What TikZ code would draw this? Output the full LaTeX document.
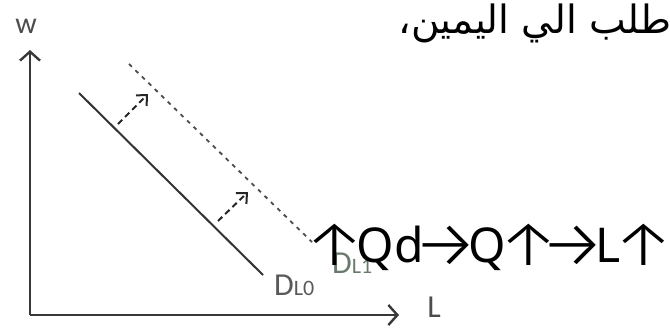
\documentclass[tikz,border=0pt]{standalone}
\usepackage{fontspec}
\setmainfont{Carlito}
\newfontfamily\arabicfont[Script=Arabic]{DejaVu Sans}
\newfontfamily\symfont{Noto Sans}
\newfontfamily\arrowfont{Fira Sans Light}
\TeXXeTstate=1
\usetikzlibrary{positioning,arrows.meta}
\definecolor{labelgreen}{RGB}{105,122,108}
\newcommand{\up}{\kern-9pt\raisebox{-3pt}{\scalebox{1.45}[1.33]{\arrowfont ↑}}\kern-9pt}
\newcommand{\rto}{\kern-11pt\raisebox{-5pt}{\scalebox{1.55}[1.4]{\arrowfont →}}\kern-11pt}

\begin{document}
\begin{tikzpicture}[
  x=1pt, y=-1pt,
  axis/.style     = {line width=2.4pt, draw=black!78,
                     -{Straight Barb[length=9pt, width=20pt, line width=2.4pt]}},
  demand/.style   = {line width=2pt, draw=black!80},
  shifted/.style  = {line width=1.8pt, draw=black!70,
                     dash pattern=on 4pt off 5pt},
  shiftarrow/.style = {line width=2pt, draw=black!85,
                     dash pattern=on 6pt off 4pt,
                     -{Straight Barb[length=8pt, width=15pt, line width=2pt]}},
  axlabel/.style  = {inner sep=0pt, text=black!70},
  curvelabel/.style = {inner sep=0pt, anchor=base west},
]
\useasboundingbox (0,0) rectangle (670,333);

% ===== Axes =====
\coordinate (O) at (30,315);
\coordinate (wtip) at (30,50);
\coordinate (Ltip) at (399,315);
\draw[axis] (O) -- (wtip);
\draw[axis] (O) -- (Ltip);
\node[axlabel, font=\fontsize{30}{30}\selectfont] (w) at (26,26) {w};
\node[axlabel, font=\fontsize{32}{32}\selectfont] (L) at (434,307) {L};

% ===== Demand curves =====
\coordinate (d0a) at (79,93);
\coordinate (d0b) at (263,275);
\coordinate (d1a) at (129,64);
\coordinate (d1b) at (312,242);
\draw[demand] (d0a) -- (d0b);
\draw[shifted] (d1a) -- (d1b);
\node[curvelabel, text=black!65, font=\fontsize{32}{32}\selectfont]
      (DL0) at (274,295) {D{\fontsize{22}{22}\selectfont L0}};
\node[curvelabel, text=labelgreen, font=\fontsize{32}{32}\selectfont]
      (DL1) at (332,273) {D{\fontsize{22}{22}\selectfont L1}};

% ===== Shift arrows =====
\coordinate (s1a) at (118,124);
\coordinate (s1b) at (148,94);
\coordinate (s2a) at (218,221);
\coordinate (s2b) at (248,192);
\draw[shiftarrow] (s1a) -- (s1b);
\draw[shiftarrow] (s2a) -- (s2b);

% ===== Texts =====
\node[inner sep=0pt, anchor=base west, font=\symfont\fontsize{48}{48}\selectfont]
      (chain) at (312,262) {\up Qd\rto Q\up\rto L\up};
\node[inner sep=0pt, anchor=base east, font=\arabicfont\fontsize{39}{39}\selectfont]
      (title) at (672,33) {\beginR طلب الي اليمين،\endR};

\end{tikzpicture}
\end{document}
